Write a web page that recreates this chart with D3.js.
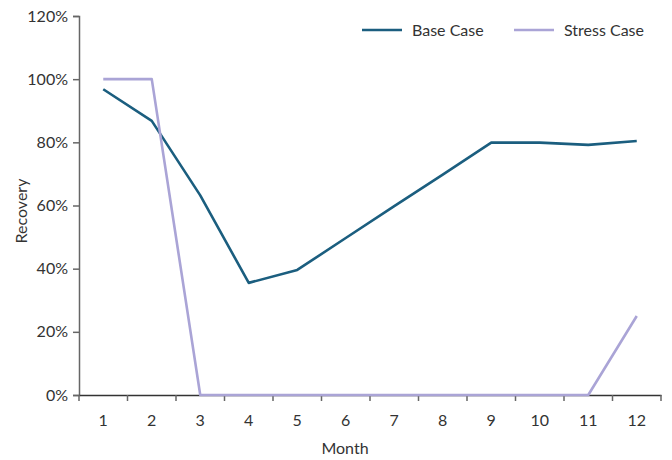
<!DOCTYPE html>
<html><head><meta charset="utf-8">
<script src="https://cdn.jsdelivr.net/npm/d3@7"></script>
<style>body{margin:0;background:#fff}svg{display:block}text{font-family:Lato,"Open Sans",sans-serif;fill:#333}</style>
</head><body><svg id="c" width="672" height="460"></svg>
<script>
const months = [1,2,3,4,5,6,7,8,9,10,11,12];
const baseCase = [96.8, 86.8, 63.2, 35.5, 39.6, 49.7, 59.8, 69.8, 79.9, 79.9, 79.2, 80.4];
const stressCase = [100, 100, 0, 0, 0, 0, 0, 0, 0, 0, 0, 25];
const yTicks = [0, 20, 40, 60, 80, 100, 120];
const seriesNames = ["Base Case", "Stress Case"];
const colors = ["#1b5e7f", "#aaa4d6"];

const svg = d3.select("#c");
const x = d3.scaleBand().domain(months).range([79, 661]);
const y = d3.scaleLinear().domain([0, 120]).range([395, 16]);

// y axis
const ya = svg.append("g").attr("transform","translate(79,0)")
  .call(d3.axisLeft(y).tickValues(yTicks).tickFormat(d=>d+"%").tickSize(6).tickPadding(5));
ya.select(".domain").attr("stroke","#666").attr("stroke-width",1.5);
ya.selectAll(".tick line").attr("stroke","#666").attr("stroke-width",1.5);
ya.selectAll(".tick text").style("font-size","16px").attr("fill","#333");

// x axis
const xa = svg.append("g").attr("transform","translate(0,395)")
  .call(d3.axisBottom(x).tickSize(0).tickPadding(20));
xa.select(".domain").attr("stroke","#333").attr("stroke-width",1.5);
xa.selectAll(".tick text").style("font-size","16px").attr("fill","#333");
// boundary ticks
const bounds = months.map(m=>x(m)).concat([x(months[months.length-1])+x.bandwidth()]);
svg.append("g").selectAll("line").data(bounds).join("line")
  .attr("x1",d=>d).attr("x2",d=>d).attr("y1",395).attr("y2",401)
  .attr("stroke","#666").attr("stroke-width",1.5);

const cx = m => x(m) + x.bandwidth()/2;
const line = d3.line().x(d=>cx(d[0])).y(d=>y(d[1]));
[baseCase, stressCase].forEach((vals,i)=>{
  svg.append("path").datum(months.map((m,j)=>[m,vals[j]]))
    .attr("d",line).attr("fill","none").attr("stroke",colors[i])
    .attr("stroke-width",2.6).attr("stroke-linejoin","round");
});

// axis titles
svg.append("text").attr("x",345).attr("y",454).attr("text-anchor","middle").style("font-size","16px").text("Month");
svg.append("text").attr("transform","translate(27,211) rotate(-90)").attr("text-anchor","middle").style("font-size","16px").text("Recovery");

// legend
const lg = [{x:362},{x:514}];
seriesNames.forEach((n,i)=>{
  svg.append("line").attr("x1",lg[i].x).attr("x2",lg[i].x+40).attr("y1",30).attr("y2",30)
    .attr("stroke",colors[i]).attr("stroke-width",2.6);
  svg.append("text").attr("x",lg[i].x+50).attr("y",36).style("font-size","16px").text(n);
});
</script></body></html>
